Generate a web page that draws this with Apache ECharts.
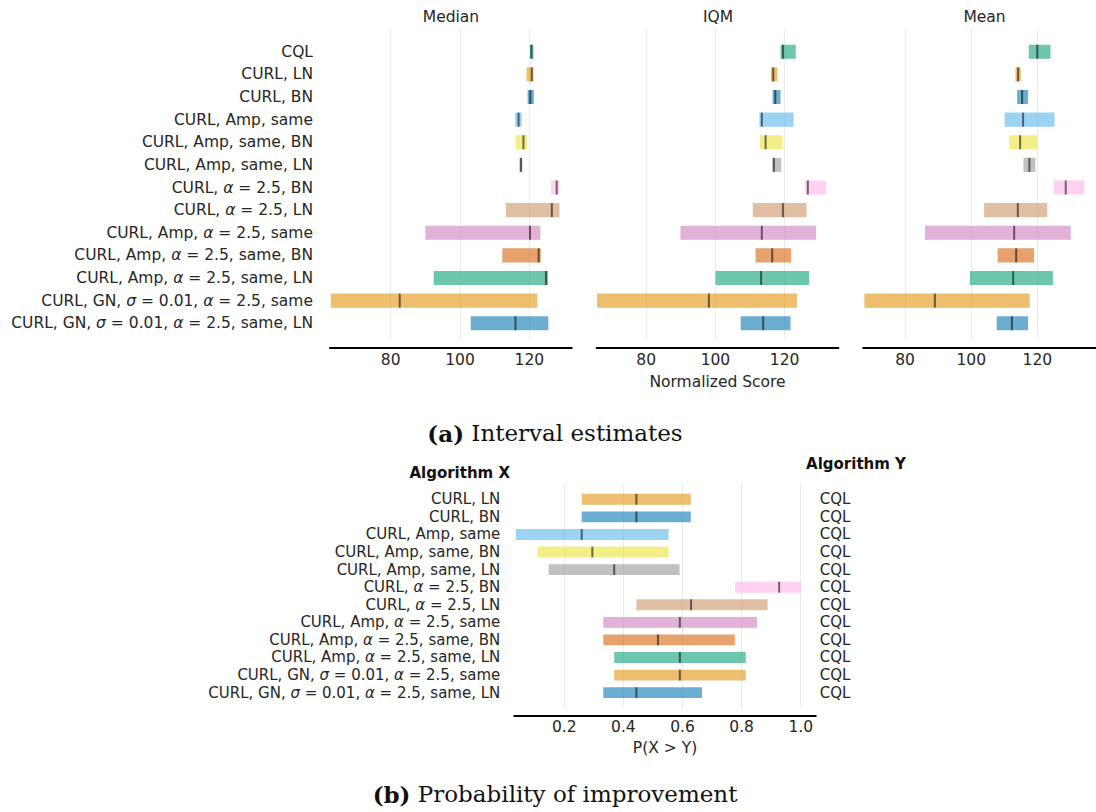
<!DOCTYPE html>
<html>
<head>
<meta charset="utf-8">
<script src="https://cdn.jsdelivr.net/npm/echarts@6/dist/echarts.min.js"></script>
<style>html,body{margin:0;padding:0;background:#fff}#c{width:1096px;height:812px}</style>
</head>
<body>
<div id="c"></div>
<script>
// ---------- data ----------
const categories = ['CQL','CURL, LN','CURL, BN','CURL, Amp, same','CURL, Amp, same, BN','CURL, Amp, same, LN',
  'CURL, α = 2.5, BN','CURL, α = 2.5, LN','CURL, Amp, α = 2.5, same','CURL, Amp, α = 2.5, same, BN',
  'CURL, Amp, α = 2.5, same, LN','CURL, GN, σ = 0.01, α = 2.5, same','CURL, GN, σ = 0.01, α = 2.5, same, LN'];
const colors = ['#029e73','#de8f05','#0173b2','#56b4e9','#ece133','#949494','#fbafe4','#ca9161','#cc78bc','#d55e00','#029e73','#de8f05','#0173b2'];

const medianLow   = [120.2,119.2,119.5,115.9,116.0,117.1,126.3,113.2, 90.0,112.2, 92.4, 62.7,103.1];
const medianPoint = [120.6,120.7,120.3,116.9,118.3,117.6,127.9,126.5,120.2,122.7,124.8, 82.6,116.0];
const medianHigh  = [121.2,121.2,121.3,117.8,119.3,118.0,128.7,128.7,123.2,123.3,125.4,122.3,125.5];

const iqmLow   = [118.8,116.0,116.5,112.7,112.9,116.4,125.9,110.8, 89.9,111.6,100.0, 65.8,107.3];
const iqmPoint = [119.5,116.7,117.3,113.4,114.5,116.9,126.7,119.5,113.4,116.4,113.2, 98.1,113.8];
const iqmHigh  = [123.2,117.9,118.8,122.6,119.4,119.0,131.9,126.3,129.1,121.9,127.1,123.6,121.7];

const meanLow   = [117.4,113.4,113.9,110.1,111.5,115.8,125.0,103.9, 86.0,108.0, 99.6, 67.7,107.7];
const meanPoint = [120.0,114.2,115.4,115.7,114.8,117.6,128.6,114.1,113.0,113.6,112.7, 89.0,112.3];
const meanHigh  = [124.0,115.0,117.2,125.2,119.9,119.4,134.2,123.0,130.1,119.0,124.7,117.7,117.2];

const probX = categories.slice(1);
const probY = probX.map(() => 'CQL');
const probLow   = [0.259,0.259,0.036,0.110,0.147,0.778,0.444,0.332,0.332,0.369,0.369,0.332];
const probPoint = [0.444,0.444,0.259,0.295,0.369,0.927,0.629,0.591,0.517,0.591,0.591,0.444];
const probHigh  = [0.628,0.628,0.553,0.553,0.590,1.000,0.888,0.852,0.777,0.814,0.814,0.666];

const scoreTicks = [80, 100, 120];
const probTicks = [0.2, 0.4, 0.6, 0.8, 1.0];

// ---------- chart ----------
const FF = 'DejaVu Sans';
const TXT = '#262626';
const chart = echarts.init(document.getElementById('c'), null, {renderer: 'svg'});

function fmtLabel(s) { return s.replace(/([ασ])/g, '{g|$1}'); }

function makeData(lo, pt, hi) { return lo.map((v, i) => [i, v, pt[i], hi[i]]); }

function renderer(cols) {
  return function (params, api) {
    const i = api.value(0), lo = api.value(1), pt = api.value(2), hi = api.value(3);
    const a = api.coord([lo, i]), b = api.coord([hi, i]), p = api.coord([pt, i]);
    const h = api.size([0, 1])[1] * 0.62;
    return {
      type: 'group',
      children: [
        { type: 'rect', shape: { x: a[0], y: a[1] - h / 2, width: b[0] - a[0], height: h },
          style: { fill: cols[i], opacity: 0.58 } },
        { type: 'line', shape: { x1: p[0], y1: p[1] - h / 2, x2: p[0], y2: p[1] + h / 2 },
          style: { stroke: 'rgba(0,0,0,0.55)', lineWidth: 2 } }
      ]
    };
  };
}

function xAx(gi, min, max, ticks, name, offset, margin, gap) {
  return {
    type: 'value', gridIndex: gi, min: min, max: max, offset: offset,
    axisLine: { show: true, onZero: false, lineStyle: { color: '#000', width: 2.2 } },
    axisTick: { show: false, customValues: ticks },
    axisLabel: { customValues: ticks, color: TXT, fontSize: 15.5, fontFamily: FF, margin: margin,
      formatter: v => (ticks === probTicks ? v.toFixed(1) : String(v)) },
    splitLine: { show: true, lineStyle: { color: '#ebebeb', width: 1 } },
    name: name, nameLocation: 'middle', nameGap: gap,
    nameTextStyle: { color: TXT, fontSize: 15.5, fontFamily: FF }
  };
}

const topIdx = categories.map((c, i) => i);
const botIdx = probX.map((c, i) => i);

function yAx(gi, min, max, idx, labels, show, pos, fs, margin) {
  return {
    type: 'value', gridIndex: gi, min: min, max: max, inverse: true, position: pos || 'left',
    axisLine: { show: false }, axisTick: { show: false, customValues: idx }, splitLine: { show: false },
    axisLabel: { show: show, customValues: idx, color: TXT, fontSize: fs, fontFamily: FF,
      margin: margin,
      formatter: v => fmtLabel(labels[Math.round(v)]),
      rich: { g: { fontStyle: 'italic', fontFamily: FF, fontSize: fs, color: TXT } } }
  };
}

const option = {
  backgroundColor: '#fff',
  animation: false,
  grid: [
    { left: 330, width: 241.7, top: 28, height: 312 },
    { left: 596.7, width: 241.6, top: 28, height: 312 },
    { left: 863.3, width: 241.6, top: 28, height: 312 },
    { left: 514.3, width: 301.4, top: 483.3, height: 225 }
  ],
  xAxis: [
    xAx(0, 62.48, 132.23, scoreTicks, '', 8, 4, 26),
    xAx(1, 65.7, 135.5, scoreTicks, 'Normalized Score', 8, 4, 26),
    xAx(2, 67.36, 137.75, scoreTicks, '', 8, 4, 26),
    xAx(3, 0.031, 1.0506, probTicks, 'P(X > Y)', 7.4, 3, 24)
  ],
  yAxis: [
    yAx(0, -1.05, 12.74, topIdx, categories, true, 'left', 15.5, 17),
    yAx(1, -1.05, 12.74, topIdx, categories, false, 'left', 15.5, 17),
    yAx(2, -1.05, 12.74, topIdx, categories, false, 'left', 15.5, 17),
    yAx(3, -0.91, 11.89, botIdx, probX, true, 'left', 15, 14),
    yAx(3, -0.91, 11.89, botIdx, probY, true, 'right', 15, 4)
  ],
  series: [
    { type: 'custom', xAxisIndex: 0, yAxisIndex: 0, renderItem: renderer(colors),
      encode: { x: [1, 2, 3], y: 0 }, data: makeData(medianLow, medianPoint, medianHigh) },
    { type: 'custom', xAxisIndex: 1, yAxisIndex: 1, renderItem: renderer(colors),
      encode: { x: [1, 2, 3], y: 0 }, data: makeData(iqmLow, iqmPoint, iqmHigh) },
    { type: 'custom', xAxisIndex: 2, yAxisIndex: 2, renderItem: renderer(colors),
      encode: { x: [1, 2, 3], y: 0 }, data: makeData(meanLow, meanPoint, meanHigh) },
    { type: 'custom', xAxisIndex: 3, yAxisIndex: 3, renderItem: renderer(colors.slice(1)),
      encode: { x: [1, 2, 3], y: 0 }, data: makeData(probLow, probPoint, probHigh) }
  ],
  graphic: [
    { type: 'text', x: 451, y: 17, style: { text: 'Median', textAlign: 'center', textVerticalAlign: 'middle', font: '15.5px "DejaVu Sans"', fill: TXT } },
    { type: 'text', x: 718, y: 17, style: { text: 'IQM', textAlign: 'center', textVerticalAlign: 'middle', font: '15.5px "DejaVu Sans"', fill: TXT } },
    { type: 'text', x: 984.5, y: 17, style: { text: 'Mean', textAlign: 'center', textVerticalAlign: 'middle', font: '15.5px "DejaVu Sans"', fill: TXT } },
    { type: 'text', x: 510, y: 473, style: { text: 'Algorithm X', textAlign: 'right', textVerticalAlign: 'middle', font: 'bold 15px "DejaVu Sans"', fill: '#111' } },
    { type: 'text', x: 856, y: 464, style: { text: 'Algorithm Y', textAlign: 'center', textVerticalAlign: 'middle', font: 'bold 15px "DejaVu Sans"', fill: '#111' } },
    { type: 'text', x: 555, y: 433, style: { text: '{b|(a)} Interval estimates', textAlign: 'center', textVerticalAlign: 'middle',
        font: '23px "DejaVu Serif"', fill: '#111', rich: { b: { fontWeight: 'bold', fontSize: 23, fontFamily: 'DejaVu Serif', fill: '#111' } } } },
    { type: 'text', x: 555, y: 794, style: { text: '{b|(b)} Probability of improvement', textAlign: 'center', textVerticalAlign: 'middle',
        font: '23px "DejaVu Serif"', fill: '#111', rich: { b: { fontWeight: 'bold', fontSize: 23, fontFamily: 'DejaVu Serif', fill: '#111' } } } }
  ]
};
chart.setOption(option);
</script>
</body>
</html>
